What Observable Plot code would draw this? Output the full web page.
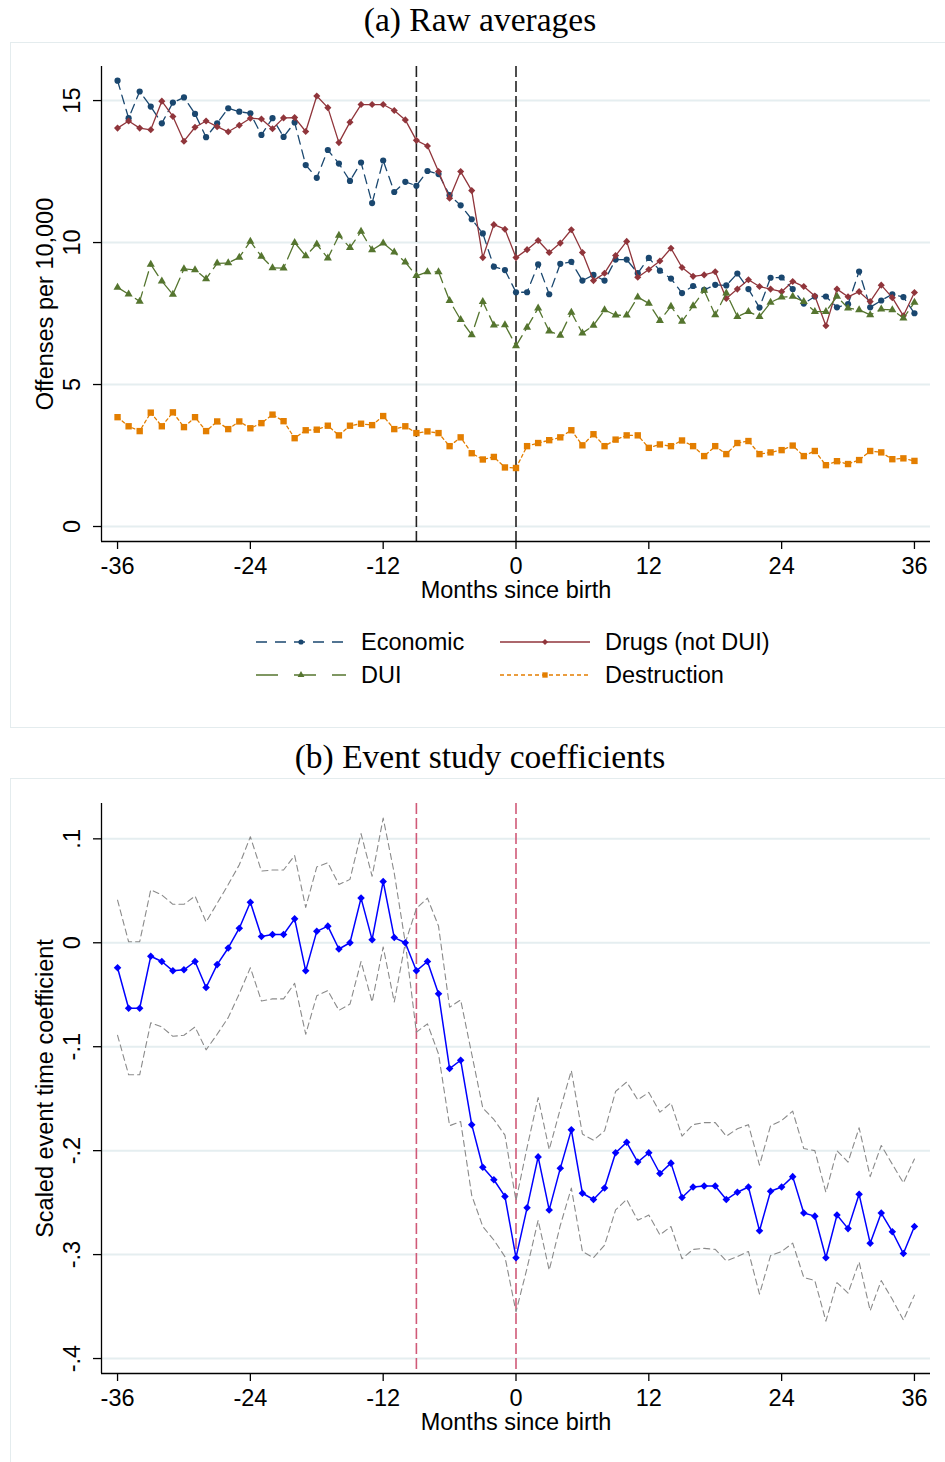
<!DOCTYPE html>
<html>
<head>
<meta charset="utf-8">
<script src="https://cdn.jsdelivr.net/npm/d3@7"></script>
<script src="https://cdn.jsdelivr.net/npm/@observablehq/plot@0.6"></script>
<style>
  body { margin: 0; background: #fff; }
  #fig { position: relative; width: 945px; height: 1462px; overflow: hidden; background: #fff;
         font-family: "Liberation Sans", Arial, Helvetica, sans-serif; }
  .title { position: absolute; left: 0; width: 960px; text-align: center; line-height: 1;
           font-family: "Liberation Serif", "Times New Roman", serif; font-size: 33.5px; color: #000; }
  .box { position: absolute; left: 10px; width: 945px; border: 1px solid #e4ecee; box-sizing: border-box; }
  .panel { position: absolute; left: 0; }
  .panel svg { overflow: visible; }
</style>
</head>
<body>
<div id="fig">
  <div class="title" style="top:3px">(a) Raw averages</div>
  <div class="box" style="top:42px;height:686px"></div>
  <div class="title" style="top:740px">(b) Event study coefficients</div>
  <div class="box" style="top:778px;height:700px"></div>
  <div class="panel" id="panelA" style="top:42px"></div>
  <div class="panel" id="panelB" style="top:778px"></div>
</div>
<script>
// Months relative to birth
const months = d3.range(-36, 37);

// (a) Offenses per 10,000, months -36 … 36
const economic = [
  15.70, 14.38, 15.32, 14.79, 14.20, 14.93, 15.11, 14.53, 13.71, 14.20, 14.73, 14.61, 14.55, 13.79,
  14.38, 13.72, 14.23, 12.73, 12.28, 13.26, 12.78, 12.17, 12.82, 11.39, 12.89, 11.78, 12.14, 12.00,
  12.52, 12.41, 11.67, 11.31, 10.82, 10.32, 9.15, 9.03, 8.25, 8.25, 9.23, 8.18, 9.25, 9.32,
  8.66, 8.86, 8.66, 9.40, 9.40, 8.92, 9.46, 9.01, 8.73,
  8.22, 8.47, 8.33, 8.51, 8.49, 8.91, 8.36, 7.71, 8.76, 8.77, 8.36, 7.85, 8.10, 8.10, 7.72, 7.83,
  8.98, 7.72, 7.96, 8.18, 8.08, 7.51
];
const drugs = [
  14.03, 14.28, 14.03, 13.97, 14.98, 14.44, 13.57, 14.06, 14.28, 14.08, 13.90, 14.13, 14.38, 14.35,
  14.01, 14.39, 14.40, 13.91, 15.16, 14.75, 13.52, 14.24, 14.86, 14.86, 14.86, 14.65, 14.32, 13.60,
  13.40, 12.50, 11.56, 12.50, 11.83, 9.47, 10.63, 10.47, 9.47, 9.75, 10.07, 9.65, 9.98, 10.45,
  9.65, 8.66, 8.92, 9.54, 10.04, 8.78, 9.05, 9.35,
  9.80, 9.12, 8.81, 8.86, 8.97, 8.03, 8.36, 8.69, 8.45, 8.36, 8.27, 8.63, 8.45, 8.12, 7.07, 8.36,
  8.09, 8.27, 7.92, 8.50, 8.06, 7.42, 8.24
];
const dui = [
  8.42, 8.18, 7.93, 9.23, 8.64, 8.17, 9.07, 9.04, 8.72, 9.27, 9.28, 9.48, 10.04, 9.51,
  9.11, 9.10, 10.00, 9.53, 9.94, 9.45, 10.25, 9.82, 10.39, 9.74, 9.98, 9.66, 9.31, 8.83,
  8.97, 8.97, 7.95, 7.28, 6.75, 7.92, 7.09, 7.10, 6.36, 7.01, 7.69, 6.88, 6.73, 7.54,
  6.81, 7.08, 7.63, 7.44, 7.44, 8.08, 7.86,
  7.25, 7.75, 7.22, 7.77, 8.31, 7.45, 8.22, 7.39, 7.57, 7.39, 7.89, 8.08, 8.10, 7.92, 7.57, 7.57,
  8.10, 7.69, 7.63, 7.45, 7.65, 7.63, 7.34, 7.89
];
const destruction = [
  3.85, 3.53, 3.36, 4.01, 3.53, 4.02, 3.50, 3.85, 3.36, 3.70, 3.43, 3.70, 3.46, 3.64,
  3.94, 3.71, 3.11, 3.39, 3.41, 3.55, 3.21, 3.55, 3.62, 3.57, 3.89, 3.43, 3.53, 3.29,
  3.35, 3.29, 2.83, 3.14, 2.58, 2.36, 2.45, 2.08, 2.06,
  2.83, 2.94, 3.04, 3.14, 3.39, 2.86, 3.25, 2.83, 3.06, 3.21, 3.21, 2.77, 2.89, 2.83, 3.03,
  2.83, 2.48, 2.83, 2.55, 2.94, 3.01, 2.55, 2.61, 2.69, 2.85, 2.48, 2.66, 2.16, 2.30, 2.20,
  2.34, 2.66, 2.61, 2.37, 2.40, 2.31
];

// (b) Scaled event-time coefficients with confidence bounds, months -36 … 36
const coef = [
  -0.024, -0.063, -0.063, -0.013, -0.018, -0.027, -0.026, -0.018, -0.043, -0.021, -0.005, 0.014, 0.039, 0.006,
  0.008, 0.008, 0.023, -0.027, 0.011, 0.016, -0.006, 0.000, 0.043, 0.003, 0.059, 0.005, 0.000, -0.027,
  -0.018, -0.049, -0.121, -0.113, -0.175, -0.216, -0.228, -0.244, -0.303, -0.255, -0.206, -0.257, -0.217, -0.180,
  -0.241, -0.247, -0.236, -0.202, -0.192, -0.211, -0.202, -0.222, -0.212,
  -0.245, -0.235, -0.234, -0.234, -0.247, -0.240, -0.235, -0.277, -0.239, -0.235, -0.225, -0.260, -0.263, -0.303,
  -0.262, -0.275, -0.242, -0.289, -0.260, -0.278, -0.299, -0.273
];
const ciUpper = [
  0.041, 0.001, 0.001, 0.051, 0.046, 0.037, 0.037, 0.045, 0.020, 0.038, 0.056, 0.075, 0.102, 0.069,
  0.070, 0.070, 0.084, 0.034, 0.073, 0.077, 0.056, 0.061, 0.105, 0.064, 0.120, 0.067, 0.000, 0.033,
  0.043, 0.016, -0.062, -0.055, -0.107, -0.159, -0.170, -0.185, -0.248, -0.197, -0.149, -0.199, -0.160, -0.123,
  -0.184, -0.190, -0.181, -0.143, -0.134, -0.151, -0.144, -0.163, -0.154,
  -0.186, -0.175, -0.173, -0.173, -0.186, -0.179, -0.175, -0.214, -0.176, -0.171, -0.162, -0.198, -0.200, -0.240,
  -0.200, -0.211, -0.178, -0.225, -0.195, -0.213, -0.231, -0.208
];
const ciLower = [
  -0.089, -0.127, -0.127, -0.077, -0.081, -0.090, -0.089, -0.081, -0.103, -0.088, -0.072, -0.049, -0.024, -0.056,
  -0.054, -0.054, -0.039, -0.088, -0.051, -0.046, -0.065, -0.059, -0.018, -0.057, -0.004, -0.057, 0.000, -0.086,
  -0.078, -0.107, -0.176, -0.172, -0.243, -0.273, -0.286, -0.302, -0.355, -0.313, -0.267, -0.315, -0.272, -0.236,
  -0.297, -0.303, -0.291, -0.257, -0.247, -0.267, -0.262, -0.281, -0.273,
  -0.304, -0.295, -0.294, -0.295, -0.306, -0.302, -0.297, -0.338, -0.301, -0.297, -0.289, -0.322, -0.325, -0.364,
  -0.327, -0.337, -0.307, -0.354, -0.325, -0.343, -0.363, -0.339
];

// Axis ticks and labels
const xTicks = [-36, -24, -12, 0, 12, 24, 36];
const xTickLabels = ["-36", "-24", "-12", "0", "12", "24", "36"];
const rawTicks = [0, 5, 10, 15];
const rawTickLabels = ["0", "5", "10", "15"];
const coefTicks = [-0.4, -0.3, -0.2, -0.1, 0, 0.1];
const coefTickLabels = ["-.4", "-.3", "-.2", "-.1", "0", ".1"];
const eventLines = [-9, 0];
const seriesNames = ["Economic", "Drugs (not DUI)", "DUI", "Destruction"];
const seriesValues = [economic, drugs, dui, destruction];

// Drawing styles per series
const seriesStyle = {
  "Economic":        { color: "#1a476f", dash: "9,6",  legendDash: "11,8",  symbol: "circle",   r: 3.1 },
  "Drugs (not DUI)": { color: "#90353b", dash: null,   legendDash: null,    symbol: "diamond2", r: 3.2 },
  "DUI":             { color: "#55752f", dash: "15,6", legendDash: "22,16", symbol: "triangle", r: 3.0 },
  "Destruction":     { color: "#e37e00", dash: "3,3",  legendDash: "4,3",   symbol: "square",   r: 3.6 }
};

const FONT = 23.5;
const baseStyle = { fontFamily: "'Liberation Sans', Arial, Helvetica, sans-serif", fontSize: FONT + "px",
                    color: "#000", background: "transparent", overflow: "visible" };
const xDomain = [-37.45, 37.45];

// Shared axis frame: black axis lines, outward ticks, vertical tick labels
function axes(yDomain, yTicks, yLabels, yTitle) {
  return [
    Plot.ruleX([xDomain[0]], { stroke: "#000", strokeWidth: 1.3 }),
    Plot.ruleY([yDomain[0]], { stroke: "#000", strokeWidth: 1.3 }),
    Plot.axisX({ ticks: xTicks, tickSize: 8, tickPadding: 8, fontSize: FONT, label: null, strokeWidth: 1.3,
                 tickFormat: d => xTickLabels[xTicks.indexOf(d)] }),
    Plot.axisY({ ticks: yTicks, tickSize: 8, tickFormat: () => "", label: null, strokeWidth: 1.3 }),
    Plot.text(yTicks, { y: d => d, text: (d, i) => yLabels[i], frameAnchor: "left", dx: -29,
                        rotate: -90, textAnchor: "middle", lineAnchor: "middle", fontSize: FONT, fill: "#000" }),
    Plot.text(["Months since birth"], { text: d => d, frameAnchor: "bottom", dy: 49,
                                        textAnchor: "middle", lineAnchor: "middle", fontSize: FONT, fill: "#000" }),
    Plot.text([yTitle], { text: d => d, frameAnchor: "left", dx: -56, rotate: -90,
                          textAnchor: "middle", lineAnchor: "middle", fontSize: FONT, fill: "#000" })
  ];
}

// ---------- Panel (a): raw averages ----------
const rawRows = seriesNames.flatMap((name, s) =>
  months.map((m, i) => ({ name, m, v: seriesValues[s][i] })));

const yDomainA = [-0.528, 16.2];
const seriesMarks = seriesNames.flatMap(name => {
  const st = seriesStyle[name];
  const rows = rawRows.filter(d => d.name === name);
  return [
    Plot.line(rows, { x: "m", y: "v", stroke: st.color, strokeWidth: 1.3,
                      strokeDasharray: st.dash || undefined }),
    Plot.dot(rows, { x: "m", y: "v", symbol: st.symbol, r: st.r, fill: st.color, stroke: "none" })
  ];
});

const plotA = Plot.plot({
  width: 945, height: 600,
  marginTop: 24, marginBottom: 101, marginLeft: 101, marginRight: 15,
  style: baseStyle,
  x: { domain: xDomain, label: null },
  y: { domain: yDomainA, label: null },
  marks: [
    Plot.ruleY(rawTicks, { stroke: "#e5eef0", strokeWidth: 2 }),
    Plot.ruleX(eventLines, { stroke: "#222", strokeWidth: 1.6, strokeDasharray: "11,4" }),
    ...seriesMarks,
    ...axes(yDomainA, rawTicks, rawTickLabels, "Offenses per 10,000")
  ]
});
document.getElementById("panelA").append(plotA);

// Legend for panel (a), two columns
const legend = d3.select("#fig").append("svg")
  .attr("width", 945).attr("height", 80)
  .style("position", "absolute").style("left", "0px").style("top", "620px");
const symbolTypes = { circle: d3.symbolCircle, diamond2: d3.symbolDiamond2,
                      triangle: d3.symbolTriangle, square: d3.symbolSquare };
const legendCols = [256, 500];
const legendRows = [22, 55];
seriesNames.forEach((name, i) => {
  const st = seriesStyle[name];
  const x0 = legendCols[i % 2], y0 = legendRows[Math.floor(i / 2)];
  const g = legend.append("g");
  g.append("line").attr("x1", x0).attr("x2", x0 + 90).attr("y1", y0).attr("y2", y0)
    .attr("stroke", st.color).attr("stroke-width", 1.3)
    .attr("stroke-dasharray", st.legendDash || null);
  g.append("path")
    .attr("d", d3.symbol().type(symbolTypes[st.symbol]).size(Math.PI * st.r * st.r * 0.7)())
    .attr("transform", `translate(${x0 + 45},${y0})`).attr("fill", st.color);
  g.append("text").attr("x", x0 + 105).attr("y", y0).attr("dy", "0.36em")
    .attr("font-family", "'Liberation Sans', Arial, sans-serif").attr("font-size", FONT)
    .attr("fill", "#000").text(name);
});

// ---------- Panel (b): event-study coefficients ----------
const coefRows = months.map((m, i) => ({ m, b: coef[i], hi: ciUpper[i], lo: ciLower[i] }));
const yDomainB = [-0.4144, 0.134];

const plotB = Plot.plot({
  width: 945, height: 684,
  marginTop: 25, marginBottom: 89, marginLeft: 101, marginRight: 15,
  style: baseStyle,
  x: { domain: xDomain, label: null },
  y: { domain: yDomainB, label: null },
  marks: [
    Plot.ruleY(coefTicks, { stroke: "#e5eef0", strokeWidth: 2 }),
    Plot.ruleX(eventLines, { stroke: "#d05a78", strokeWidth: 1.6, strokeDasharray: "11,4" }),
    Plot.line(coefRows, { x: "m", y: "hi", stroke: "#8a8a8a", strokeWidth: 1.1, strokeDasharray: "6,4" }),
    Plot.line(coefRows, { x: "m", y: "lo", stroke: "#8a8a8a", strokeWidth: 1.1, strokeDasharray: "6,4" }),
    Plot.line(coefRows, { x: "m", y: "b", stroke: "#0000ff", strokeWidth: 1.5 }),
    Plot.dot(coefRows, { x: "m", y: "b", symbol: "diamond2", r: 3.4, fill: "#0000ff", stroke: "none" }),
    ...axes(yDomainB, coefTicks, coefTickLabels, "Scaled event time coefficient")
  ]
});
document.getElementById("panelB").append(plotB);
</script>
</body>
</html>
